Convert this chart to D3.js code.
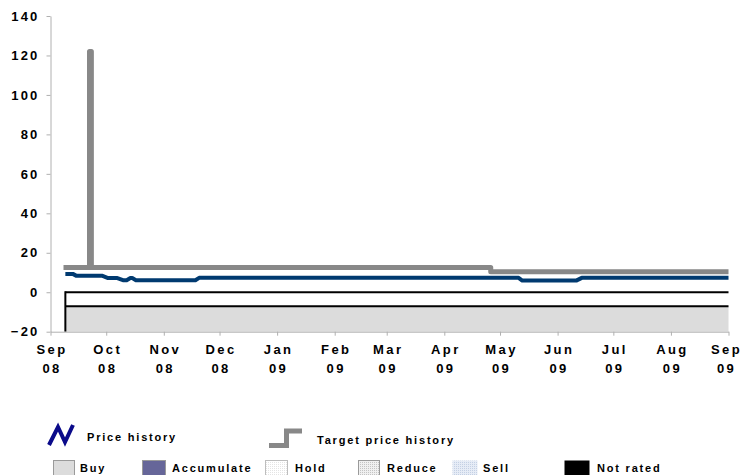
<!DOCTYPE html>
<html>
<head>
<meta charset="utf-8">
<script src="https://cdn.jsdelivr.net/npm/d3@7"></script>
<style>
  body { margin: 0; background: #fff; }
  svg { display: block; }
  text { font-family: "Liberation Sans", Arial, sans-serif; font-weight: bold; fill: #000; }
</style>
</head>
<body>
<svg id="chart" width="744" height="475"></svg>
<script>
// Share price history (EUR)
const priceDates = ["2008-09-09","2008-09-13","2008-09-15","2008-09-29","2008-10-02","2008-10-07","2008-10-10","2008-10-12","2008-10-14","2008-10-15","2008-10-17","2008-11-18","2008-11-20","2009-05-11","2009-05-13","2009-06-11","2009-06-14","2009-09-01"];
const priceValues = [9.3, 9.3, 8.3, 8.3, 7.2, 7.2, 6.1, 6.1, 7.2, 7.2, 6.1, 6.1, 7.3, 7.3, 5.9, 5.9, 7.3, 7.3];

// Target price history (step changes)
const targetDates = ["2008-09-08","2008-09-22","2008-09-23","2009-04-26","2009-09-01"];
const targetValues = [12.5, 122, 12.5, 10.4, 10.4];

// Recommendation history
const ratingStart = ["2008-09-09"];
const ratingEnd = ["2009-09-01"];
const ratingName = ["Buy"];

const yTicks = [-20, 0, 20, 40, 60, 80, 100, 120, 140];
const legendRatings = ["Buy", "Accumulate", "Hold", "Reduce", "Sell", "Not rated"];

const parse = d3.timeParse("%Y-%m-%d");
const svg = d3.select("#chart");

const defs = svg.append("defs");
function dotPattern(id, bg, dot) {
  const p = defs.append("pattern").attr("id", id).attr("width", 2).attr("height", 2)
    .attr("patternUnits", "userSpaceOnUse");
  p.append("rect").attr("width", 2).attr("height", 2).attr("fill", bg);
  p.append("rect").attr("width", 1).attr("height", 1).attr("fill", dot);
}
dotPattern("pHold", "#ffffff", "#e4e4e4");
dotPattern("pReduce", "#f0f0f0", "#c4c4c4");
dotPattern("pSell", "#e6ecf6", "#c4d0e4");

const ratingStyle = {
  "Buy": { fill: "#dcdcdc", stroke: "#9a9a9a" },
  "Accumulate": { fill: "#666699", stroke: "#9a9a9a" },
  "Hold": { fill: "url(#pHold)", stroke: "#bdbdbd" },
  "Reduce": { fill: "url(#pReduce)", stroke: "#9a9a9a" },
  "Sell": { fill: "url(#pSell)", stroke: "none" },
  "Not rated": { fill: "#000000", stroke: "none" }
};

const x = d3.scaleTime()
  .domain([parse("2008-09-01"), parse("2009-09-01")])
  .range([50.5, 728.5]);
const y = d3.scaleLinear().domain([-20, 140]).range([331.7, 16]);

// Rating band below zero
const bandTop = 0, bandMid = -7.1, bandBottom = -20;
const band = svg.append("g");
ratingStart.forEach((s, i) => {
  const x0 = x(parse(s)), x1 = x(parse(ratingEnd[i]));
  band.append("rect")
    .attr("x", x0).attr("y", y(bandMid))
    .attr("width", x1 - x0).attr("height", y(bandBottom) - y(bandMid))
    .attr("fill", ratingStyle[ratingName[i]].fill);
  band.append("line").attr("x1", x0).attr("x2", x1).attr("y1", y(bandTop)).attr("y2", y(bandTop))
    .attr("stroke", "#000").attr("stroke-width", 2);
  band.append("line").attr("x1", x0).attr("x2", x1).attr("y1", y(bandMid)).attr("y2", y(bandMid))
    .attr("stroke", "#000").attr("stroke-width", 2);
  band.append("line").attr("x1", x0).attr("x2", x0).attr("y1", y(bandTop) - 1).attr("y2", y(bandBottom))
    .attr("stroke", "#000").attr("stroke-width", 2);
});

// Axes
const yAxis = svg.append("g").attr("transform", "translate(50.5,0)")
  .call(d3.axisLeft(y).tickValues(yTicks).tickSize(4).tickPadding(7).tickSizeOuter(0));
yAxis.selectAll("text").style("font-size", "13px").style("letter-spacing", "2.2px");

const months = d3.timeMonth.range(parse("2008-09-01"), parse("2009-09-02"));
const xAxis = svg.append("g").attr("transform", `translate(0,${y(-20)})`)
  .call(d3.axisBottom(x).tickValues(months).tickSize(4).tickSizeOuter(0).tickFormat(""));
xAxis.selectAll(".tick").each(function(d, i) {
  const g = d3.select(this);
  const shift = i === months.length - 1 ? "-2.5px" : "1px";
  g.append("text").attr("y", 22).attr("text-anchor", "middle").attr("dx", shift)
    .style("font-size", "13px").style("letter-spacing", "2.4px")
    .text(d3.timeFormat("%b")(d));
  g.append("text").attr("y", 41.5).attr("text-anchor", "middle").attr("dx", shift)
    .style("font-size", "13px").style("letter-spacing", "2.4px")
    .text(d3.timeFormat("%y")(d));
});
svg.selectAll(".domain").attr("stroke", "#b0b0b0");
svg.selectAll(".tick line").attr("stroke", "#b0b0b0");

// Target price line
const targetData = targetDates.map((d, i) => ({ date: parse(d), value: targetValues[i] }));
svg.append("path").datum(targetData)
  .attr("fill", "none").attr("stroke", "#888888").attr("stroke-width", 5)
  .attr("stroke-linejoin", "round")
  .attr("d", d3.line().curve(d3.curveStepAfter).x(d => x(d.date)).y(d => y(d.value)));

// Price line
const priceData = priceDates.map((d, i) => ({ date: parse(d), value: priceValues[i] }));
svg.append("path").datum(priceData)
  .attr("fill", "none").attr("stroke", "#003a70").attr("stroke-width", 4)
  .attr("stroke-linejoin", "round")
  .attr("d", d3.line().x(d => x(d.date)).y(d => y(d.value)));

// Legend
const legend = svg.append("g");
legend.append("polyline")
  .attr("points", "49,445 58,427 65,442 73,425")
  .attr("fill", "none").attr("stroke", "#0a0a8a").attr("stroke-width", 4)
  .attr("stroke-linejoin", "miter");
legend.append("text").attr("x", 87).attr("y", 441).style("font-size", "11px")
  .style("letter-spacing", "1.8px").text("Price history");
legend.append("polyline")
  .attr("points", "269,445.5 286.5,445.5 286.5,431 302,431")
  .attr("fill", "none").attr("stroke", "#888888").attr("stroke-width", 5);
legend.append("text").attr("x", 317).attr("y", 444).style("font-size", "11px")
  .style("letter-spacing", "1.8px").text("Target price history");

const boxX = [53, 142, 265, 358, 452, 564];
const boxW = [21, 23, 22, 21, 25, 25];
const textX = [80, 172, 295, 387, 483, 597];
legendRatings.forEach((r, i) => {
  const st = ratingStyle[r];
  legend.append("rect").attr("x", boxX[i] + 0.5).attr("y", 460.5)
    .attr("width", boxW[i]).attr("height", 17)
    .attr("fill", st.fill).attr("stroke", st.stroke);
  legend.append("text").attr("x", textX[i]).attr("y", 472).style("font-size", "11px")
    .style("letter-spacing", "1.8px").text(r);
});
</script>
</body>
</html>
